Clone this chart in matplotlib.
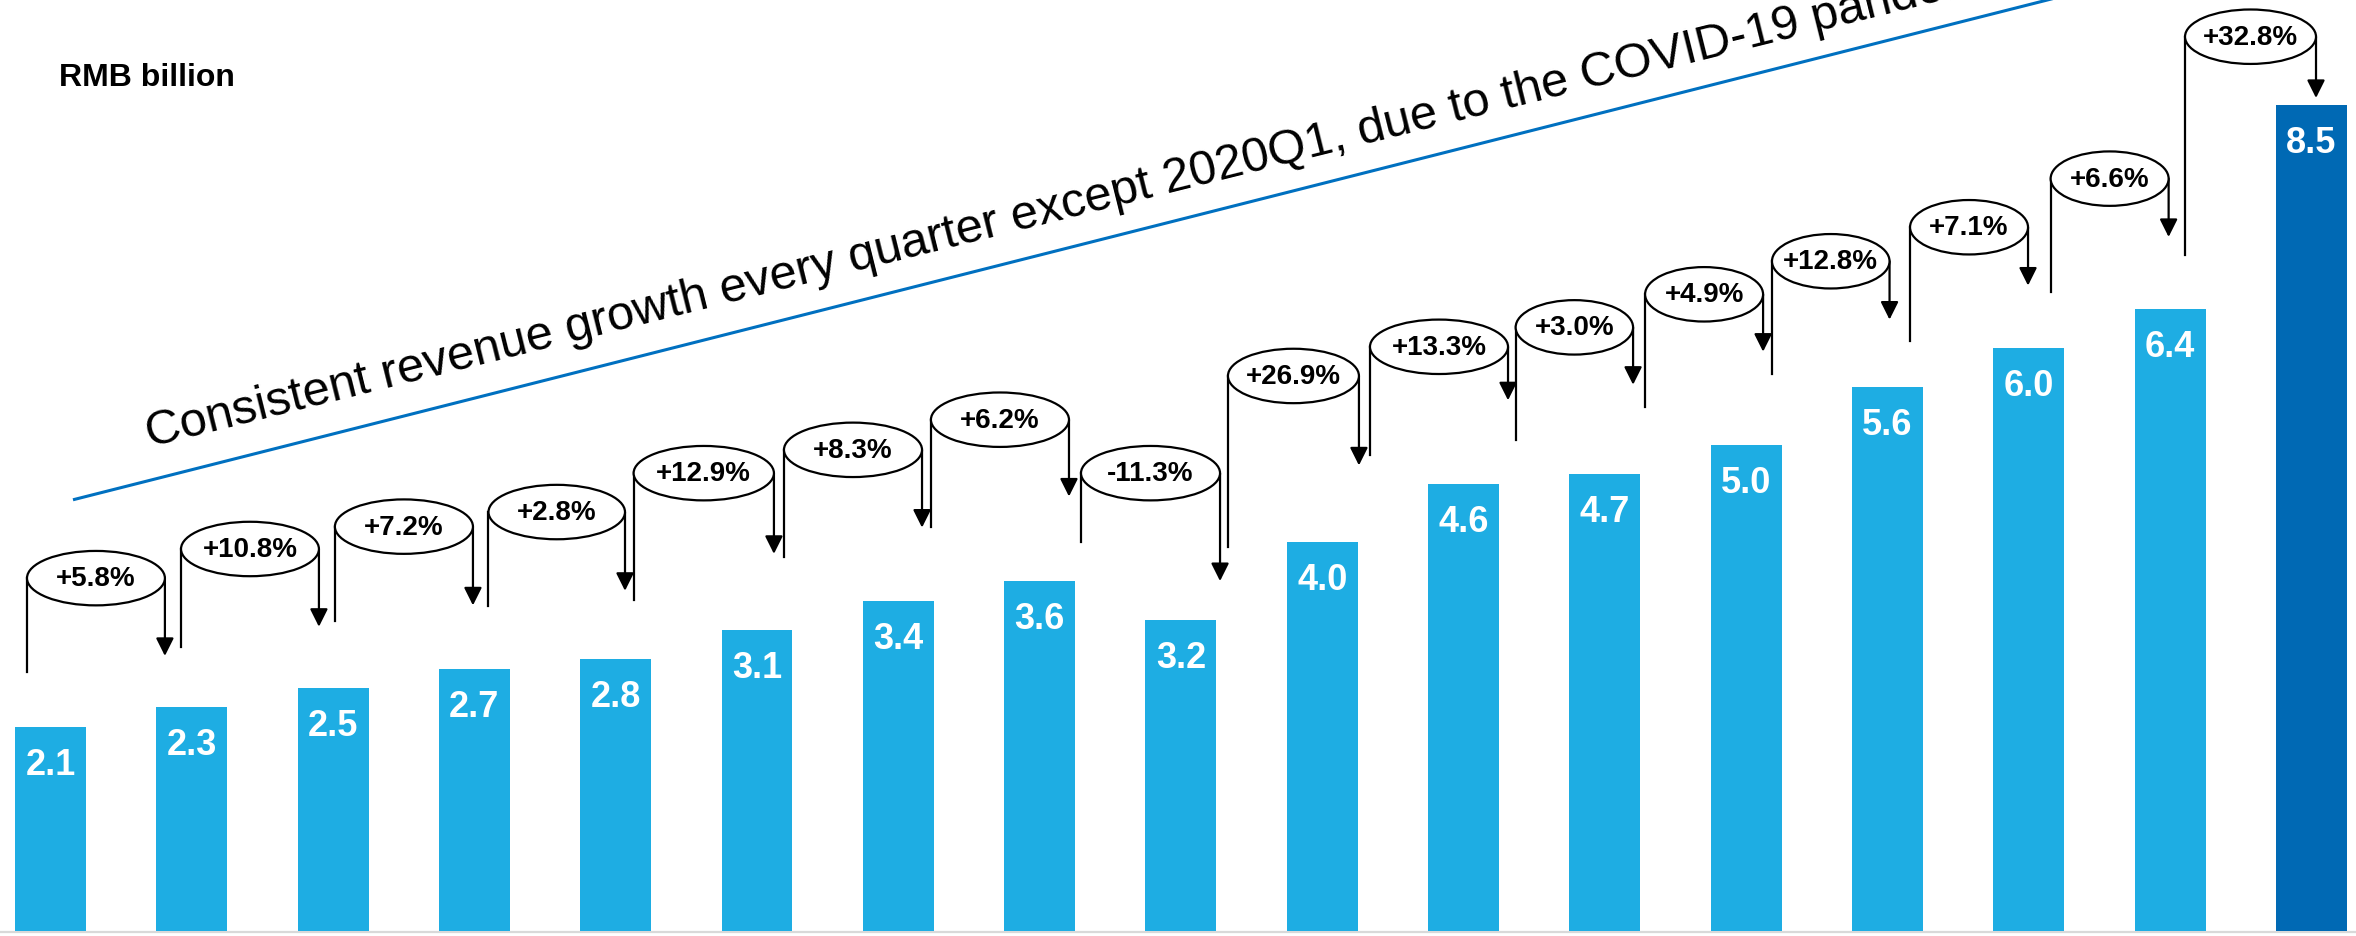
import numpy as np
import matplotlib.pyplot as plt
from matplotlib.patches import Ellipse

# Quarterly revenue, RMB billion
revenue = [2.1, 2.3, 2.5, 2.7, 2.8, 3.1, 3.4, 3.6, 3.2, 4.0, 4.6, 4.7, 5.0, 5.6, 6.0, 6.4, 8.5]
# Quarter-on-quarter growth between consecutive bars (%)
growth = [5.8, 10.8, 7.2, 2.8, 12.9, 8.3, 6.2, -11.3, 26.9, 13.3, 3.0, 4.9, 12.8, 7.1, 6.6, 32.8]

# Callout layout: horizontal offsets of the left leg (from bar i) and of the arrow (from bar i+1),
# height of the oval, bottom of the left leg and arrow tip (in RMB billion units)
left_dx = [-0.166, -0.076, 0.013, 0.100, 0.127, 0.191, 0.231, 0.293, 0.333, 0.338, 0.369, 0.285, 0.183, 0.160, 0.155, 0.106]
right_dx = [-0.190, -0.100, -0.010, 0.066, 0.120, 0.168, 0.208, 0.277, 0.260, 0.315, 0.200, 0.120, 0.015, -0.005, -0.010, 0.033]
oval_y = [3.63, 3.93, 4.16, 4.31, 4.71, 4.95, 5.26, 4.71, 5.71, 6.01, 6.21, 6.55, 6.89, 7.24, 7.74, 9.20]
foot_y = [2.66, 2.92, 3.19, 3.34, 3.41, 3.85, 4.16, 4.00, 3.95, 4.90, 5.05, 5.39, 5.73, 6.07, 6.57, 6.95]
tip_y = [2.83, 3.13, 3.35, 3.50, 3.88, 4.15, 4.47, 3.60, 4.79, 5.46, 5.62, 5.96, 6.29, 6.64, 7.14, 8.57]

plt.rcParams['font.family'] = ['Liberation Sans', 'DejaVu Sans']

fig = plt.figure(figsize=(23.56, 9.37), dpi=100)
ax = fig.add_axes([0, 0, 1, 1])
ax.set_xlim(-0.357, 16.316)
ax.set_ylim(-0.0514, 9.588)
ax.axis('off')

x = np.arange(len(revenue))
colors = ['#1eade3'] * (len(revenue) - 1) + ['#0069b4']
bars = ax.bar(x, revenue, width=0.502, color=colors, zorder=2)

# light grey baseline
ax.axhline(-0.012, color='#d9d9d9', lw=1.6, zorder=1)

# values inside the bars
for xi, v in zip(x, revenue):
    ax.annotate(f'{v:.1f}', xy=(xi, v), xytext=(0, -47), textcoords='offset pixels',
                ha='center', va='baseline', color='white', fontsize=26, fontweight='bold', zorder=3)

# growth callouts: leg up from bar i, oval with the rate, arrow down to bar i+1
for i, g in enumerate(growth):
    xl = i + left_dx[i]
    xr = i + 1 + right_dx[i]
    yc = oval_y[i]
    ax.plot([xl, xl], [foot_y[i], yc], color='black', lw=1.6, zorder=4)
    ax.annotate('', xy=(xr, tip_y[i]), xytext=(xr, yc),
                arrowprops=dict(arrowstyle='-|>,head_length=0.54,head_width=0.27',
                                color='black', lw=1.6, mutation_scale=20,
                                shrinkA=0, shrinkB=0), zorder=4)
    ax.add_patch(Ellipse(((xl + xr) / 2, yc), xr - xl, 0.56, facecolor='white',
                         edgecolor='black', lw=1.6, zorder=5))
    ax.text((xl + xr) / 2, yc, f'{g:+.1f}%', ha='center', va='center',
            fontsize=20, fontweight='bold', zorder=6)

# trend line and headline
ax.plot([0.17, 14.6], [4.44, 9.75], color='#0070c0', lw=2.2, zorder=1)
ax.text(0.704, 4.99, 'Consistent revenue growth every quarter except 2020Q1, due to the COVID-19 pandemic',
        rotation=14.0, rotation_mode='anchor', ha='left', va='baseline', fontsize=35)

fig.text(59 / 2356, 1 - 86 / 937, 'RMB billion', ha='left', va='baseline', fontsize=23, fontweight='bold')

fig.savefig('out.png', dpi=100)
